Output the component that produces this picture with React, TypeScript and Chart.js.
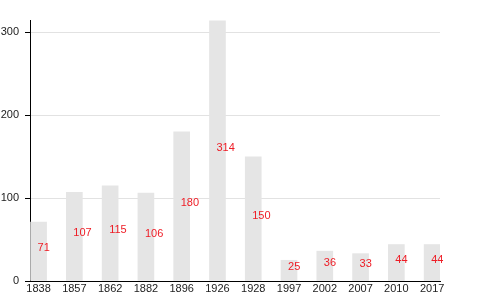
import React, { useEffect, useRef } from "react";
import { Chart, registerables } from "chart.js";

Chart.register(...registerables);

const years = ["1838", "1857", "1862", "1882", "1896", "1926", "1928", "1997", "2002", "2007", "2010", "2017"];
const population = [71, 107, 115, 106, 180, 314, 150, 25, 36, 33, 44, 44];
const yTicks = [0, 100, 200, 300];

const FONT = "'Liberation Sans', Arial, sans-serif";

const valueLabels = {
  id: "valueLabels",
  afterDatasetsDraw(chart: any) {
    const ctx = chart.ctx;
    const meta = chart.getDatasetMeta(0);
    ctx.save();
    ctx.font = `11px ${FONT}`;
    ctx.fillStyle = "#ee1c25";
    ctx.textAlign = "left";
    ctx.textBaseline = "alphabetic";
    meta.data.forEach((bar: any, i: number) => {
      const mid = (bar.y + bar.base) / 2;
      ctx.fillText(String(population[i]), bar.x - 1, mid);
    });
    ctx.restore();
  },
};

export default function App() {
  const ref = useRef<HTMLCanvasElement | null>(null);
  useEffect(() => {
    if (!ref.current) return;
    const chart = new Chart(ref.current, {
      type: "bar",
      data: {
        datasets: [
          {
            data: population.map((v, i) => ({ x: i, y: v })),
            backgroundColor: "#e5e5e5",
            borderWidth: 0,
            barThickness: 16,
          },
        ],
      },
      options: {
        responsive: false,
        animation: false,
        layout: { padding: { top: 20, right: 40, left: 0, bottom: 0 } },
        plugins: { legend: { display: false }, tooltip: { enabled: false } },
        scales: {
          x: {
            type: "linear",
            offset: false,
            min: -0.24,
            max: 11.22,
            grid: { display: false, drawTicks: false, offset: false },
            border: { display: true, color: "#000", width: 1 },
            afterBuildTicks: (scale: any) => {
              scale.ticks = years.map((_, i) => ({ value: i }));
            },
            afterFit: (scale: any) => {
              scale.height = 19;
            },
            ticks: {
              autoSkip: false,
              maxRotation: 0,
              padding: 1,
              color: "#222",
              font: { family: FONT, size: 11 },
              callback: (v: any) => years[v as number] ?? "",
            },
          },
          y: {
            min: 0,
            max: 315,
            grid: { color: "#e2e2e2", tickColor: "#000", tickLength: 5, drawTicks: true },
            border: { display: true, color: "#000", width: 1 },
            afterBuildTicks: (scale: any) => {
              scale.ticks = yTicks.map((v) => ({ value: v }));
            },
            afterFit: (scale: any) => {
              scale.width = 30;
            },
            ticks: {
              padding: 6,
              color: "#222",
              font: { family: FONT, size: 11 },
            },
          },
        },
      },
      plugins: [valueLabels],
    });
    return () => chart.destroy();
  }, []);
  return (
    <div style={{ position: "absolute", left: 0, top: 0, width: 480, height: 300, background: "#fff" }}>
      <canvas ref={ref} width={480} height={300} style={{ display: "block" }} />
    </div>
  );
}
